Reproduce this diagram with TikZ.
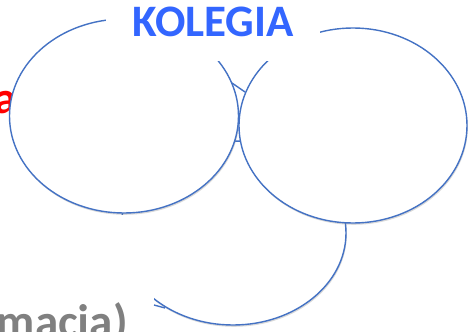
\documentclass[tikz,border=0pt]{standalone}
\usepackage{fontspec}
\setmainfont{Carlito}
\usetikzlibrary{shapes.geometric,shadows}
\definecolor{setblue}{RGB}{68,114,196}
\definecolor{titleblue}{RGB}{51,102,255}
\definecolor{labelred}{RGB}{255,0,0}
\definecolor{labelgray}{RGB}{128,128,128}

\begin{document}
\begin{tikzpicture}[x=1pt, y=-1pt,
    setoval/.style={ellipse, draw=setblue, line width=1.4pt, fill=white, inner sep=0pt,
        drop shadow={shadow xshift=0.8pt, shadow yshift=-1.8pt, opacity=0.3}},
    word/.style={font=\bfseries\fontsize{45}{54}\selectfont, inner sep=0pt}]
    \useasboundingbox (0,0) rectangle (472,332);
    \node[setoval, minimum width=226pt, minimum height=184pt] (bottom) at (233,233) {};
    \node[word, labelgray, font=\bfseries\fontsize{47}{56}\selectfont, fill=white, anchor=base east,
        text height=122pt, text depth=12pt, inner xsep=26pt] (macja) at (154,337) {macja)};
    \node[word, labelred, anchor=base east] (redword) at (17,113) {a};
    \node[setoval, minimum width=229pt, minimum height=194pt] (left) at (124,116) {};
    \node[setoval, minimum width=228pt, minimum height=195pt] (right) at (353,125.5) {};
    \node[word, titleblue, fill=white, anchor=base, text height=37pt, text depth=24pt, inner xsep=26pt] (kolegia) at (213,37) {KOLEGIA};
    \draw[setblue, line width=1.4pt] (232,83) -- (245,92);
    \draw[setblue, line width=1.4pt] (154,305) -- (165,308);
\end{tikzpicture}
\end{document}
